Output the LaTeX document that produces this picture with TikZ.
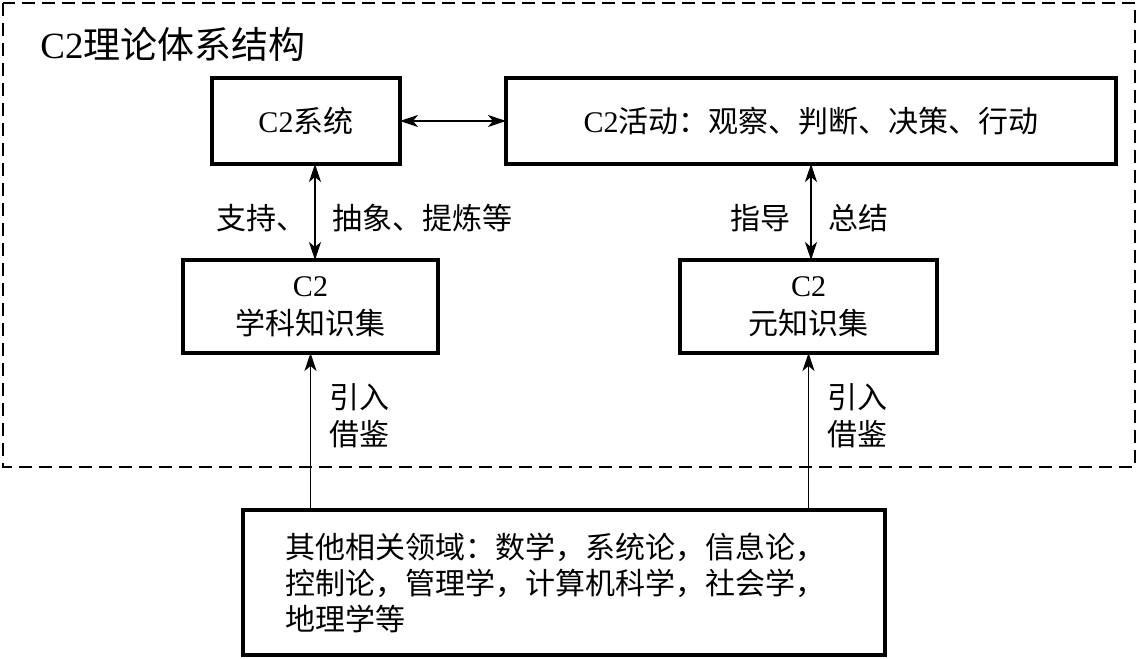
\documentclass[tikz,border=0pt]{standalone}
\usepackage{fontspec}
\setmainfont{Liberation Serif}
\newfontfamily\cjkfont{Noto Sans CJK SC}
\usetikzlibrary{arrows.meta,positioning,calc}
\newcommand{\zh}[1]{{\cjkfont #1}}
\tikzset{
  >={Stealth[length=9pt,width=6pt,inset=2.5pt]},
  every node/.style={font=\fontsize{15pt}{19pt}\selectfont},
  box/.style={draw,line width=1.6pt,align=center,inner sep=2pt,outer sep=0pt},
  fieldbox/.style={box,align=left,font=\fontsize{15pt}{18pt}\selectfont\cjkfont},
  frame/.style={draw,line width=1pt,dash pattern=on 6.5pt off 3.5pt},
  dbl/.style={<->,line width=1pt},
  arrow/.style={->,line width=0.9pt},
  tag/.style={inner sep=0pt,align=left,font=\fontsize{15pt}{18.5pt}\selectfont\cjkfont},
  title/.style={inner sep=0pt,font=\fontsize{18.5pt}{22pt}\selectfont},
}

\begin{document}
\begin{tikzpicture}[node distance=48pt and 53pt]
\useasboundingbox (-153pt,60.5pt) rectangle (416pt,-268.5pt);

% top row
\node[box,minimum width=94pt,minimum height=43pt] (sys) {C2\zh{系统}};
\node[box,minimum width=305pt,minimum height=43pt,right=of sys] (act) {C2\zh{活动：观察、判断、决策、行动}};
\draw[dbl] (sys) -- (act);

% knowledge sets
\node[box,minimum width=127.5pt,minimum height=46.5pt,below=of sys,xshift=2.25pt] (disc) {C2\\\zh{学科知识集}};
\node[box,minimum width=128.5pt,minimum height=46.5pt,below=of act,xshift=-1.25pt] (meta) {C2\\\zh{元知识集}};
\draw[dbl] ([xshift=4.5pt]sys.south) -- node[tag,left=4pt,yshift=-3pt]{支持、} node[tag,right=8pt,yshift=-3pt]{抽象、提炼等} ([xshift=4.5pt]sys.south |- disc.north);
\draw[dbl] (act.south) -- node[tag,left=10pt,yshift=-3pt]{指导} node[tag,right=8pt,yshift=-3pt]{总结} (act.south |- meta.north);

% frame
\coordinate (fnw) at ($(sys.north west)+(-104.5pt,37.5pt)$);
\coordinate (fse) at ($(act.east |- disc.south)+(9.5pt,-57pt)$);
\draw[frame] (fnw) rectangle (fse);
\node[title,anchor=base west] (ttl) at ($(fnw)+(18.5pt,-28pt)$) {C2\zh{理论体系结构}};

% other fields
\node[fieldbox,minimum width=321pt,minimum height=72.5pt,text width=279pt,below=78.5pt of {$(disc.south)!0.5!(meta.south)$},xshift=2.25pt] (other) {其他相关领域：数学，系统论，信息论，\\控制论，管理学，计算机科学，社会学，\\地理学等};
\draw[arrow] (other.north -| disc.south) -- node[tag,right=9pt,pos=0.6]{引入\\借鉴} (disc.south);
\draw[arrow] (other.north -| meta.south) -- node[tag,right=9pt,pos=0.6]{引入\\借鉴} (meta.south);

\end{tikzpicture}
\end{document}
